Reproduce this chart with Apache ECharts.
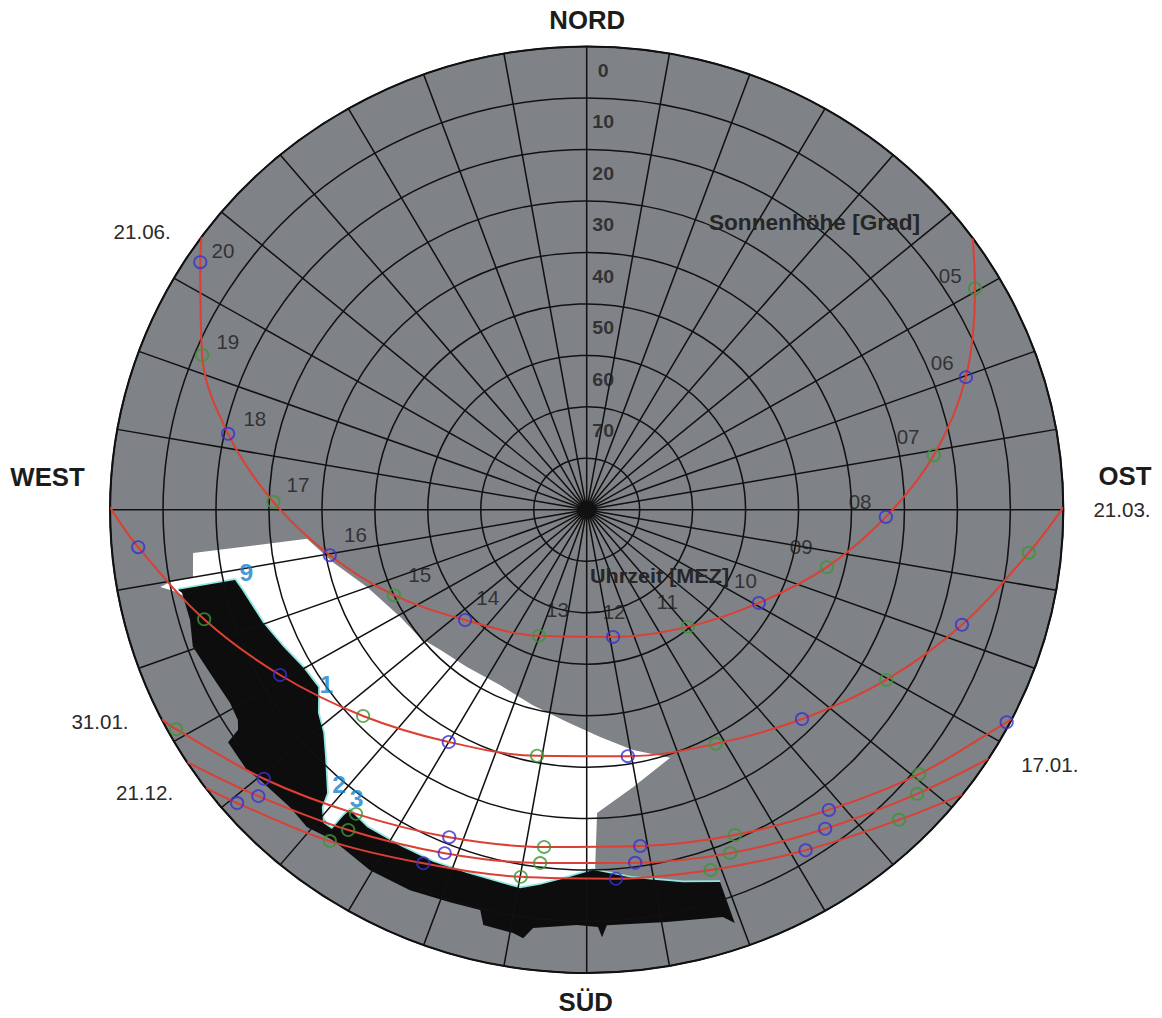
<!DOCTYPE html>
<html>
<head>
<meta charset="utf-8">
<title>Sonnenstandsdiagramm</title>
<script src="https://cdn.jsdelivr.net/npm/echarts@6/dist/echarts.min.js"></script>
<style>
  html, body { margin: 0; padding: 0; background: #ffffff; overflow: hidden; }
  /* the diagram is printed slightly wider than tall */
  #chart { width: 1162px; height: 1018px; transform: scaleX(1.029); transform-origin: 586.7px 0; }
</style>
</head>
<body>
<div id="chart"></div>
<script>
// Sonnenstandsdiagramm: Azimut in Grad (0 = Nord, im Uhrzeigersinn), Sonnenhöhe in Grad (0 = Horizont am Rand)

// Beschriftung der Höhenringe
const ALT_TICKS = [0, 10, 20, 30, 40, 50, 60, 70];

// Sonnenbahn 21.06.
const HOURS_2106 = ['20','19','18','17','16','15','14','13','12','11','10','09','08','07','06','05'];
const AZ_2106  = [303.4, 292.5, 282.3, 271.5, 259.7, 245.5, 227.0, 200.2, 168.6, 140.0, 119.1, 103.8, 91.4, 80.8, 70.2, 59.6];
const ALT_2106 = [2.6, 11.4, 20.7, 30.8, 40.7, 50.0, 58.6, 63.9, 64.8, 60.3, 52.8, 43.3, 33.5, 23.6, 13.9, 5.0];
const HORIZON_2106 = [306.1, 54.1];   // Azimut Untergang, Aufgang

// Sonnenbahn 21.03.
const HOURS_2103 = ['18','17','16','15','14','13','12','11','10','09','08','07'];
const AZ_2103  = [265.1, 253.6, 241.0, 226.5, 210.0, 191.1, 170.8, 151.8, 135.0, 120.3, 107.5, 95.7];
const ALT_2103 = [5.0, 14.7, 23.8, 31.8, 37.9, 41.3, 41.5, 38.4, 32.5, 24.5, 15.7, 6.1];
const HORIZON_2103 = [270.3, 89.7];

// Sonnenbahn 31.01.
const HOURS_3101 = ['17','16','15','14','13','12','11','10','09','08'];
const AZ_3101  = [241.2, 229.4, 216.4, 202.2, 187.0, 171.2, 156.1, 141.9, 129.3, 117.5];
const ALT_3101 = [1.5, 9.7, 16.6, 21.3, 24.0, 23.9, 20.9, 15.9, 8.9, 0.6];
const HORIZON_3101 = [243.1, 116.8];

// Sonnenbahn 17.01.
const HOURS_1701 = ['16','15','14','13','12','11','10','09'];
const AZ_1701  = [228.1, 215.9, 201.9, 187.3, 172.4, 157.9, 144.0, 131.5];
const ALT_1701 = [6.7, 13.2, 18.1, 20.8, 20.8, 18.0, 13.4, 6.7];
const HORIZON_1701 = [237.0, 122.5];

// Sonnenbahn 21.12.
const HOURS_2112 = ['16','15','14','13','12','11','10','09'];
const AZ_2112  = [229.2, 217.0, 204.2, 189.9, 175.6, 161.5, 148.0, 135.6];
const ALT_2112 = [2.8, 9.4, 14.7, 17.6, 18.1, 16.2, 12.0, 5.7];
const HORIZON_2112 = [233.1, 127.9];

// freies Sichtfeld, [Azimut, Höhe]
const OPEN_SKY = [
  [259.45, 8.1], [259.9, 10.1], [260.0, 14.5], [263.55, 15.2], [263.9, 36.9], [258.0, 41.0],
  [250.1, 45.9], [239.4, 49.1], [231.6, 49.9], [225.5, 51.2], [216.5, 52.0], [205.7, 52.2],
  [195.0, 50.7], [185.15, 48.6], [176.7, 45.8], [169.4, 42.5], [161.9, 39.3], [170.8, 35.4],
  [178.1, 31.05], [178.7, 20.0], [178.8, 14.2], [192.0, 11.5], [202.0, 12.4], [206.9, 12.0],
  [212.3, 12.5], [216.8, 11.3], [224.8, 13.2], [237.0, 22.1], [248.6, 20.7], [255.8, 14.7],
  [258.4, 10.8]
];

// Horizontverbauung, [Azimut, Höhe]; die ersten 28 Punkte bilden die Oberkante
const OBSTRUCTION = [
  [258.6, 11.3], [258.4, 22.2], [256.5, 23.1], [250.2, 25.05], [245.1, 26.8], [240.3, 28.3],
  [235.8, 28.7], [232.1, 25.7], [228.9, 24.0], [225.8, 21.1], [221.7, 16.3], [220.9, 13.6],
  [219.3, 11.4], [217.8, 11.5], [217.7, 14.8], [217.5, 16.5], [213.9, 15.7], [208.4, 15.8],
  [203.0, 15.7], [197.8, 15.9], [192.7, 15.7], [189.7, 15.4], [186.9, 16.6], [183.0, 18.4],
  [179.0, 20.0], [173.0, 17.9], [165.9, 15.4], [160.8, 13.4],
  [160.8, 5.0], [162.0, 6.8], [169.3, 8.5], [177.3, 9.2], [178.0, 6.9], [178.5, 8.9],
  [181.3, 9.3], [187.1, 8.1], [188.2, 5.9], [189.6, 6.6], [193.6, 7.0], [194.5, 9.7],
  [198.7, 9.5], [204.3, 8.9], [210.3, 8.9], [216.7, 9.9], [220.6, 8.8], [224.1, 9.5],
  [229.6, 9.0], [231.75, 8.3], [236.3, 8.6], [237.0, 11.5], [238.2, 12.5], [240.9, 12.9],
  [246.0, 12.1], [250.3, 11.0], [254.05, 12.1], [258.05, 11.9]
];
const OBSTRUCTION_TOP_COUNT = 28;

// Messpunkte der Verbauung
const POINT_NAMES = ['9', '1', '2', '3'];
const POINT_AZ  = [259.2, 235.3, 221.2, 217.8];
const POINT_ALT = [24.6, 30.2, 19.0, 19.1];

// ---------- Darstellung ----------
const FONT = '"Liberation Sans", Arial, Helvetica, sans-serif';
const RED = '#dc3f33', BLUE = '#3b2fd0', GREEN = '#3f9534', GRAY = '#7f8286';
const INK = '#1c1c1c', CYAN = '#8fe8e2', POINT_BLUE = '#1580cc';

// Versatz der Stundenzahlen zum Kreis (px)
const HOUR_LABEL_OFFSET = {
  '20': [22, -11], '19': [25, -13], '18': [26, -15], '17': [24, -17], '16': [25, -20],
  '15': [25, -20], '14': [22, -22], '13': [18, -26], '12': [1, -25], '11': [-20, -25],
  '10': [-13, -22], '09': [-25, -20], '08': [-25, -15], '07': [-25, -18], '06': [-23, -14],
  '05': [-24, -12]
};

function sunPath(name, hours, az, alt, horizon) {
  const pts = [[0, horizon[0]]]
    .concat(hours.map((h, i) => [alt[i], az[i]]))
    .concat([[0, horizon[1]]]);
  return {
    type: 'line', name: name, coordinateSystem: 'polar', data: pts,
    smooth: 0.35, symbol: 'none', showSymbol: false, silent: true, z: 6,
    lineStyle: { color: RED, width: 2 }
  };
}

function hourMarks(name, hours, az, alt, withLabels) {
  return {
    type: 'scatter', name: name + ' Stunden', coordinateSystem: 'polar',
    symbol: 'circle', symbolSize: 12, silent: true, z: 7,
    data: hours.map((h, i) => ({
      value: [alt[i], az[i]],
      itemStyle: {
        color: 'rgba(0,0,0,0)',
        borderColor: (parseInt(h, 10) % 2 === 0) ? BLUE : GREEN,
        borderWidth: 1.8
      },
      label: withLabels ? {
        show: true, formatter: h, position: 'inside', offset: HOUR_LABEL_OFFSET[h],
        fontSize: 20, color: INK, fontFamily: FONT
      } : { show: false }
    }))
  };
}

function areaSeries(name, pts, fill, z) {
  return {
    type: 'custom', name: name, coordinateSystem: 'polar', silent: true, z: z,
    data: [[pts[0][1], pts[0][0]]],
    renderItem: (params, api) => ({
      type: 'polygon',
      shape: { points: pts.map(p => api.coord([p[1], p[0]])) },
      style: { fill: fill, stroke: null }
    })
  };
}

function edgeSeries(name, pts, color, width, z) {
  return {
    type: 'custom', name: name, coordinateSystem: 'polar', silent: true, z: z,
    data: [[pts[0][1], pts[0][0]]],
    renderItem: (params, api) => ({
      type: 'polyline',
      shape: { points: pts.map(p => api.coord([p[1], p[0]])) },
      style: { stroke: color, lineWidth: width, fill: null, lineJoin: 'round' }
    })
  };
}

function text(str, x, y, size, bold, color) {
  return {
    type: 'text', x: x, y: y, z: 100, silent: true,
    style: {
      text: str, fill: color || INK,
      font: (bold ? 'bold ' : '') + size + 'px ' + FONT,
      align: 'center', verticalAlign: 'middle',
      textAlign: 'center', textVerticalAlign: 'middle'
    }
  };
}

const series = [
  // Himmelsscheibe
  {
    type: 'custom', name: 'Scheibe', coordinateSystem: 'polar', silent: true, z: 1,
    data: [[0, 0]],
    renderItem: (params) => {
      const c = params.coordSys;
      return { type: 'circle', shape: { cx: c.cx, cy: c.cy, r: c.r }, style: { fill: GRAY } };
    }
  },
  areaSeries('Sichtfeld', OPEN_SKY, '#ffffff', 2),
  edgeSeries('Kante', OBSTRUCTION.slice(0, OBSTRUCTION_TOP_COUNT), CYAN, 3.5, 3),
  areaSeries('Verbauung', OBSTRUCTION, '#0d0d0d', 4),

  sunPath('21.06.', HOURS_2106, AZ_2106, ALT_2106, HORIZON_2106),
  sunPath('21.03.', HOURS_2103, AZ_2103, ALT_2103, HORIZON_2103),
  sunPath('31.01.', HOURS_3101, AZ_3101, ALT_3101, HORIZON_3101),
  sunPath('17.01.', HOURS_1701, AZ_1701, ALT_1701, HORIZON_1701),
  sunPath('21.12.', HOURS_2112, AZ_2112, ALT_2112, HORIZON_2112),

  hourMarks('21.06.', HOURS_2106, AZ_2106, ALT_2106, true),
  hourMarks('21.03.', HOURS_2103, AZ_2103, ALT_2103, false),
  hourMarks('31.01.', HOURS_3101, AZ_3101, ALT_3101, false),
  hourMarks('17.01.', HOURS_1701, AZ_1701, ALT_1701, false),
  hourMarks('21.12.', HOURS_2112, AZ_2112, ALT_2112, false),

  // Höhenangaben zwischen den Ringen, entlang der Nordrichtung
  {
    type: 'scatter', name: 'Sonnenhöhe', coordinateSystem: 'polar', silent: true, z: 8,
    symbol: 'circle', symbolSize: 1, itemStyle: { color: 'rgba(0,0,0,0)' },
    data: ALT_TICKS.map(t => ({ value: [t + 5, 0], name: String(t) })),
    label: {
      show: true, position: 'inside', formatter: '{b}', offset: [16, -2],
      fontSize: 19, fontWeight: 'bold', color: INK, fontFamily: FONT
    }
  },

  // Nummern der Messpunkte
  {
    type: 'scatter', name: 'Messpunkte', coordinateSystem: 'polar', silent: true, z: 8,
    symbol: 'circle', symbolSize: 1, itemStyle: { color: 'rgba(0,0,0,0)' },
    data: POINT_NAMES.map((n, i) => ({ value: [POINT_ALT[i], POINT_AZ[i]], name: n })),
    label: {
      show: true, position: 'inside', formatter: '{b}',
      fontSize: 24, fontWeight: 'bold', color: POINT_BLUE, fontFamily: FONT
    }
  }
];

const chart = echarts.init(document.getElementById('chart'), null, { renderer: 'svg' });
chart.setOption({
  animation: false,
  backgroundColor: '#ffffff',
  polar: { center: [586.7, 509.8], radius: 463.2 },
  angleAxis: {
    type: 'value', min: 0, max: 360, interval: 10, startAngle: 90, clockwise: true, z: 5,
    axisLine: { show: true, lineStyle: { color: '#111111', width: 2 } },
    axisTick: { show: false }, axisLabel: { show: false },
    splitLine: { show: true, lineStyle: { color: '#111111', width: 1.5 } },
    splitArea: { show: false }
  },
  radiusAxis: {
    type: 'value', min: 0, max: 90, interval: 10, inverse: true, z: 5,
    axisLine: { show: false }, axisTick: { show: false }, axisLabel: { show: false },
    splitLine: { show: true, lineStyle: { color: '#111111', width: 1.5 } }
  },
  graphic: [
    text('NORD', 587.2, 20.5, 25, true),
    text('SÜD', 585.7, 1001.7, 25, true),
    text('WEST', 62.7, 477.5, 25, true),
    text('OST', 1109.8, 476.5, 25, true),
    text('21.03.', 1106.9, 510, 20, false, '#2a2a2a'),
    text('21.06.', 154.7, 232.3, 20, false, '#2a2a2a'),
    text('31.01.', 113.7, 722.5, 20, false, '#2a2a2a'),
    text('21.12.', 157.0, 793.3, 20, false, '#2a2a2a'),
    text('17.01.', 1036.7, 765, 20, false, '#2a2a2a'),
    text('Sonnenhöhe [Grad]', 808.1, 222.7, 22, true, '#262626'),
    text('Uhrzeit [MEZ]', 657.5, 576, 21, true, '#262626')
  ],
  series: series
});
</script>
</body>
</html>
